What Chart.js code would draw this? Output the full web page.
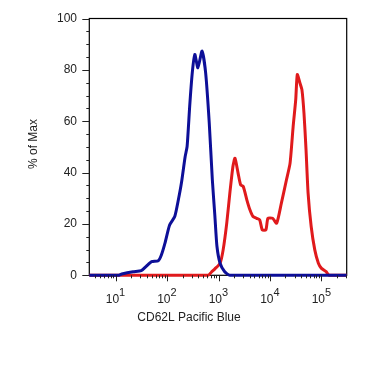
<!DOCTYPE html>
<html lang="en">
<head>
  <meta charset="UTF-8">
  <title>CD62L Pacific Blue</title>
  <script src="https://cdn.jsdelivr.net/npm/chart.js"></script>
  <style>
    body { margin: 0; padding: 0; background: #fff; }
    canvas { display: block; }
  </style>
</head>
<body>
  <canvas id="histo" width="390" height="369"></canvas>
  <script>
    // x positions are log10 of the channel value, y is % of max
    const blueLog = [0.49, 1.05, 1.12, 1.34, 1.50, 1.60, 1.70, 1.83, 1.89, 1.96, 2.05, 2.15, 2.22, 2.28, 2.35, 2.39, 2.44, 2.49, 2.54, 2.60, 2.68, 2.75, 2.82, 2.88, 2.93, 2.97, 3.03, 3.12, 3.22, 5.49];
    const blueVal = [0, 0, 0.5, 1.4, 1.8, 3.6, 5.3, 5.7, 7.9, 12.5, 19.6, 22.9, 29.4, 36, 46, 50.2, 65.8, 78.8, 86, 80.8, 87.3, 78.8, 59.3, 37.2, 22.9, 11.2, 4.7, 1.4, 0, 0];

    const redLog = [0.49, 2.80, 2.86, 2.93, 3.03, 3.09, 3.16, 3.22, 3.28, 3.32, 3.38, 3.43, 3.48, 3.55, 3.61, 3.67, 3.74, 3.80, 3.85, 3.92, 3.96, 4.05, 4.13, 4.22, 4.32, 4.39, 4.45, 4.50, 4.53, 4.58, 4.62, 4.66, 4.70, 4.74, 4.80, 4.87, 4.94, 5.00, 5.09, 5.15, 5.49];
    const redVal = [0, 0, 1.2, 2.5, 4.7, 9.9, 20.3, 32, 42.4, 45.6, 39.8, 35.2, 34.6, 29.4, 25.5, 22.9, 22.2, 21.6, 17.7, 17.7, 22.2, 22.2, 20.3, 28, 37.2, 43.7, 58, 68.4, 78.2, 75, 72.3, 63.2, 48.9, 32, 19, 9.9, 4.7, 2.7, 1.4, 0, 0];

    const xDecades = [1, 2, 3, 4, 5];
    const yTicks = [0, 20, 40, 60, 80, 100];
    const xTitle = 'CD62L Pacific Blue';
    const yTitle = '% of Max';

    const FONT = '12px "Liberation Sans", Arial, sans-serif';
    const SUP = '11px "Liberation Sans", Arial, sans-serif';

    function pts(xs, ys) {
      return xs.map((x, i) => ({ x: x, y: ys[i] }));
    }

    // axes, ticks, labels and frame
    const axesPlugin = {
      id: 'facsAxes',
      beforeDatasetsDraw(chart) {
        const { ctx, chartArea: a } = chart;
        ctx.save();
        ctx.strokeStyle = '#000';
        ctx.lineWidth = 1.2;
        ctx.strokeRect(a.left, a.top, a.right - a.left, a.bottom - a.top);
        ctx.restore();
      },
      afterDraw(chart) {
        const { ctx, chartArea: a, scales } = chart;
        const xs = scales.x, ys = scales.y;
        ctx.save();
        ctx.strokeStyle = '#222';
        ctx.fillStyle = '#222';
        ctx.lineWidth = 1;

        // y ticks
        for (let v = 0; v <= 100; v += 5) {
          const y = Math.round(ys.getPixelForValue(v)) + 0.5;
          const len = v % 20 === 0 ? 7 : 3;
          ctx.beginPath();
          ctx.moveTo(a.left - len, y);
          ctx.lineTo(a.left, y);
          ctx.stroke();
        }
        ctx.font = FONT;
        ctx.textAlign = 'right';
        ctx.textBaseline = 'middle';
        yTicks.forEach(v => ctx.fillText(String(v), 77, ys.getPixelForValue(v)));

        // x ticks, log minors
        for (let d = 0; d <= 5; d++) {
          for (let k = 1; k <= 9; k++) {
            const lv = d + Math.log10(k);
            if (lv < xs.min || lv > xs.max) continue;
            const x = Math.round(xs.getPixelForValue(lv)) + 0.5;
            const len = k === 1 ? 6 : 3;
            ctx.beginPath();
            ctx.moveTo(x, a.bottom);
            ctx.lineTo(x, a.bottom + len);
            ctx.stroke();
          }
        }
        xDecades.forEach(d => {
          const x = xs.getPixelForValue(d);
          ctx.font = FONT;
          ctx.textAlign = 'right';
          ctx.textBaseline = 'alphabetic';
          ctx.fillText('10', x + 3.5, 303);
          ctx.font = SUP;
          ctx.textAlign = 'left';
          ctx.fillText(String(d), x + 3.5, 296);
        });

        // titles
        ctx.font = FONT;
        ctx.textAlign = 'center';
        ctx.textBaseline = 'middle';
        ctx.fillText(xTitle, 189, 318);
        ctx.translate(33.5, 144);
        ctx.rotate(-Math.PI / 2);
        ctx.fillText(yTitle, 0, 0);
        ctx.restore();
      }
    };

    new Chart(document.getElementById('histo'), {
      type: 'line',
      data: {
        datasets: [
          {
            label: 'isotype',
            data: pts(blueLog, blueVal),
            borderColor: '#0d0f98',
            borderWidth: 3,
            pointRadius: 0,
            tension: 0.2,
            clip: 6
          },
          {
            label: 'CD62L',
            data: pts(redLog, redVal),
            borderColor: '#e01a1c',
            borderWidth: 3,
            pointRadius: 0,
            tension: 0.2,
            clip: 6
          }
        ]
      },
      options: {
        responsive: false,
        animation: false,
        layout: { padding: { left: 89.3, right: 43.3, top: 18.5, bottom: 93.7 } },
        plugins: { legend: { display: false }, tooltip: { enabled: false } },
        scales: {
          x: { type: 'linear', display: false, min: 0.49, max: 5.49 },
          y: { type: 'linear', display: false, min: 0, max: 100 }
        }
      },
      plugins: [axesPlugin]
    });
  </script>
</body>
</html>
